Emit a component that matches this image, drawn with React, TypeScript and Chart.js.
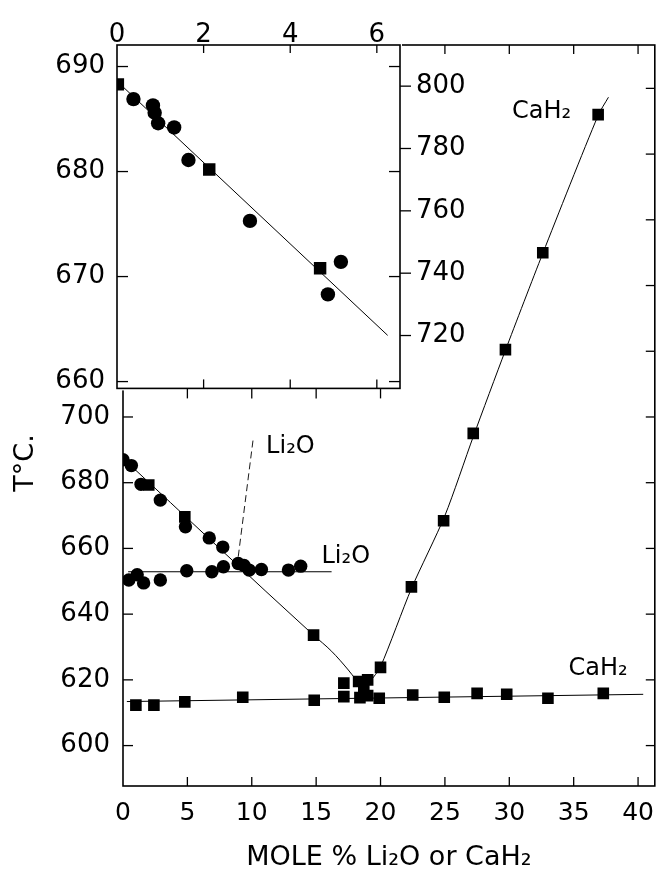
import React, { useEffect, useRef } from 'react';
import { Chart, registerables } from 'chart.js';

Chart.register(...registerables);

// ---------------- main diagram data (mole %, T °C) ----------------
const liqCircleX = [0, 0.65, 1.4, 2.9, 4.85, 6.7, 7.75];
const liqCircleT = [687.0, 685.2, 679.5, 674.7, 666.6, 663.2, 660.4];
const liqSquareX = [2.0, 4.8, 14.8];
const liqSquareT = [679.3, 669.6, 633.6];
const li2oCircleX = [0.45, 1.1, 1.6, 2.9, 4.95, 6.9, 7.8, 8.95, 9.4, 9.8, 10.75, 12.85, 13.8];
const li2oCircleT = [650.4, 652.0, 649.5, 650.4, 653.2, 652.9, 654.4, 655.4, 654.8, 653.4, 653.6, 653.4, 654.6];
const eutSquareX = [1.0, 2.4, 4.8, 9.3, 14.85, 17.15, 17.15, 18.3, 19.0, 18.4, 19.0, 18.7, 19.9, 22.5, 24.95, 27.5, 29.8, 33.0, 37.3];
const eutSquareT = [612.3, 612.3, 613.3, 614.7, 613.8, 614.9, 619.0, 619.5, 620.0, 614.6, 615.2, 617.0, 614.4, 615.4, 614.7, 615.9, 615.6, 614.4, 615.9];
const cah2SquareX = [20.0, 22.4, 24.9, 27.2, 29.7, 32.6, 36.9];
const cah2SquareT = [623.8, 648.3, 668.4, 695.0, 720.5, 750.0, 792.0];

// drawn curves
const liqLineX = [0, 14.8, 16.2, 17.5, 18.1];
const liqLineT = [687.4, 633.6, 628.7, 623.0, 620.0];
const li2oLineX = [0.4, 16.2];
const li2oLineT = [652.9, 652.9];
const li2oDashX = [8.95, 10.1];
const li2oDashT = [657.5, 693.0];
const eutLineX = [0.3, 40.4];
const eutLineT = [613.4, 615.6];
const cah2LineX = [19.2, 20.0, 22.4, 25.0, 27.2, 29.7, 32.6, 36.9, 37.7];
const cah2LineT = [619.5, 624.0, 647.8, 670.0, 694.0, 720.3, 749.8, 791.8, 797.3];

// main axes
const mainXMin = 0;
const mainXMax = 41.3;
const mainTMin = 587.7;
const mainTMax = 813.2;
const mainXTicks = [0, 5, 10, 15, 20, 25, 30, 35, 40];
const mainXMarks = [5, 10, 15, 20, 25, 30, 35, 40];
const mainTTicks = [600, 620, 640, 660, 680, 700];
const mainTUpperTicks = [720, 740, 760, 780, 800];
const mainTAllTicks = [600, 620, 640, 660, 680, 700, 720, 740, 760, 780, 800];
const mainTopMarksUnderInset = [5, 10, 15, 20];

// annotations
const labelText = ['CaH₂', 'Li₂O', 'Li₂O', 'CaH₂'];
const labelX = [32.5, 13.0, 17.3, 36.9];
const labelT = [792.8, 691.0, 657.5, 623.5];
const xTitle = 'MOLE % Li₂O or CaH₂';
const yTitle = 'T°C.';
const yTitleT = 686;

// ---------------- inset data (expanded low-concentration region) ----------------
const insetCircleX = [0.38, 0.83, 0.87, 0.95, 1.32, 1.65, 3.07, 5.17, 4.87];
const insetCircleT = [686.9, 686.3, 685.6, 684.6, 684.2, 681.1, 675.3, 671.4, 668.3];
const insetSquareX = [0.02, 2.13, 4.69];
const insetSquareT = [688.3, 680.2, 670.8];
const insetLineX = [0, 6.25];
const insetLineT = [688.6, 664.4];
const insetXMin = 0;
const insetXMax = 6.535;
const insetTMin = 659.35;
const insetTMax = 692.05;
const insetXTicks = [0, 2, 4, 6];
const insetXMarks = [2, 4, 6];
const insetTTicks = [660, 670, 680, 690];

const FONT = "'DejaVu Sans', 'Liberation Sans', sans-serif";
const INK = '#000';

const pts = (xs: number[], ys: number[]) => xs.map((x, i) => ({ x, y: ys[i] }));

const frameTicks = {
  id: 'frameTicks',
  beforeDraw(chart: any, _a: any, opts: any) {
    if (!opts || !opts.fill) return;
    const { ctx, chartArea: a } = chart;
    ctx.save();
    ctx.fillStyle = opts.fill;
    ctx.fillRect(a.left - 2, a.top - 2, a.right - a.left + 4, a.bottom - a.top + 4);
    ctx.restore();
  },
  afterDraw(chart: any, _a: any, opts: any) {
    const { ctx, chartArea: a } = chart;
    ctx.save();
    ctx.strokeStyle = INK;
    ctx.lineWidth = opts.lineWidth || 1.5;
    ctx.strokeRect(a.left, a.top, a.right - a.left, a.bottom - a.top);
    ctx.lineWidth = opts.tickWidth || 1.3;
    for (const m of opts.marks || []) {
      const s = chart.scales[m.scale];
      for (const v of m.values) {
        const p = s.getPixelForValue(v);
        ctx.beginPath();
        if (m.edge === 'bottom') { ctx.moveTo(p, a.bottom); ctx.lineTo(p, a.bottom - m.len); }
        else if (m.edge === 'top') { ctx.moveTo(p, a.top); ctx.lineTo(p, a.top + m.len); }
        else if (m.edge === 'left') { ctx.moveTo(a.left, p); ctx.lineTo(a.left + m.len, p); }
        else { ctx.moveTo(a.right, p); ctx.lineTo(a.right - m.len, p); }
        ctx.stroke();
      }
    }
    ctx.restore();
  },
};

const textMarks = {
  id: 'textMarks',
  afterDraw(chart: any, _a: any, opts: any) {
    const { ctx } = chart;
    for (const it of opts.items || []) {
      ctx.save();
      ctx.font = it.font;
      ctx.fillStyle = INK;
      ctx.textAlign = 'center';
      ctx.textBaseline = 'middle';
      const x = it.xPixel !== undefined ? it.xPixel : chart.scales.x.getPixelForValue(it.x);
      const y = chart.scales.y.getPixelForValue(it.y);
      ctx.translate(x, y);
      if (it.rotate) ctx.rotate(it.rotate);
      ctx.fillText(it.text, 0, 0);
      ctx.restore();
    }
  },
};

const lineDs = (xs: number[], ys: number[], extra: any = {}) => ({
  data: pts(xs, ys),
  showLine: true,
  pointRadius: 0,
  borderColor: INK,
  borderWidth: 1,
  cubicInterpolationMode: 'monotone',
  clip: 0,
  ...extra,
});

const markDs = (xs: number[], ys: number[], style: string, r: number) => ({
  data: pts(xs, ys),
  showLine: false,
  pointStyle: style,
  pointRadius: r,
  pointHoverRadius: r,
  pointBackgroundColor: INK,
  pointBorderWidth: 0,
  borderColor: INK,
  clip: 0,
});

const noGrid = { display: false, drawTicks: false };

export default function App() {
  const mainRef = useRef<HTMLCanvasElement | null>(null);
  const insetRef = useRef<HTMLCanvasElement | null>(null);

  useEffect(() => {
    const tickFont = (size: number, lineHeight = 1.2) => ({ family: FONT, size, lineHeight });

    const main = new Chart(mainRef.current as HTMLCanvasElement, {
      type: 'scatter',
      data: {
        datasets: [
          lineDs(liqLineX, liqLineT),
          lineDs(li2oLineX, li2oLineT),
          lineDs(li2oDashX, li2oDashT, { borderDash: [7, 4], borderWidth: 0.9 }),
          lineDs(eutLineX, eutLineT),
          lineDs(cah2LineX, cah2LineT, { cubicInterpolationMode: 'default', tension: 0.25 }),
          markDs(liqCircleX, liqCircleT, 'circle', 6.7),
          markDs(li2oCircleX, li2oCircleT, 'circle', 6.7),
          markDs(liqSquareX, liqSquareT, 'rect', 8.2),
          markDs(eutSquareX, eutSquareT, 'rect', 8.2),
          markDs(cah2SquareX, cah2SquareT, 'rect', 8.2),
        ] as any,
      },
      options: {
        responsive: false,
        animation: false,
        devicePixelRatio: 1,
        events: [],
        layout: { padding: { left: 0, top: 45, right: 3, bottom: 0 } },
        plugins: {
          legend: { display: false },
          tooltip: { enabled: false },
          frameTicks: {
            lineWidth: 1.6,
            marks: [
              { scale: 'x', edge: 'bottom', values: mainXMarks, len: 9 },
              { scale: 'x', edge: 'top', values: mainXMarks, len: 9 },
              { scale: 'y', edge: 'left', values: mainTTicks, len: 10 },
              { scale: 'y', edge: 'right', values: mainTAllTicks, len: 9 },
            ],
          },
          textMarks: {
            items: [
              ...labelText.map((t, i) => ({ text: t, x: labelX[i], y: labelT[i], font: `24px ${FONT}` })),
              { text: yTitle, xPixel: 26, y: yTitleT, rotate: -Math.PI / 2, font: `27px ${FONT}` },
            ],
          },
        } as any,
        scales: {
          x: {
            type: 'linear',
            position: 'bottom',
            min: mainXMin,
            max: mainXMax,
            grid: noGrid,
            border: { display: false },
            afterBuildTicks: (s: any) => { s.ticks = mainXTicks.map((v) => ({ value: v })); },
            afterFit: (s: any) => { s.height = 85; s.paddingLeft = 0; s.paddingRight = 0; },
            ticks: { font: tickFont(25), color: INK, padding: 12, maxRotation: 0, autoSkip: false },
            title: {
              display: true,
              text: xTitle,
              color: INK,
              font: { family: FONT, size: 27, lineHeight: 1 },
              padding: { top: 0, bottom: 0 },
            },
          },
          y: {
            type: 'linear',
            position: 'left',
            min: mainTMin,
            max: mainTMax,
            grid: noGrid,
            border: { display: false },
            afterBuildTicks: (s: any) => { s.ticks = mainTTicks.map((v) => ({ value: v })); },
            afterFit: (s: any) => { s.width = 123; },
            ticks: { font: tickFont(26), color: INK, padding: 13, autoSkip: false },
          },
        } as any,
      },
      plugins: [frameTicks, textMarks] as any,
    });

    const INSET = { left: 117, right: 400, top: 45, bottom: 407, w: 480, h: 420 };
    const mainY = main.scales.y;
    const mainX = main.scales.x;
    const y2Max = mainY.getValueForPixel(INSET.top) as number;
    const y2Min = mainY.getValueForPixel(INSET.bottom) as number;
    const xmMin = mainX.getValueForPixel(INSET.left) as number;
    const xmMax = mainX.getValueForPixel(INSET.right) as number;

    const inset = new Chart(insetRef.current as HTMLCanvasElement, {
      type: 'scatter',
      data: {
        datasets: [
          lineDs(insetLineX, insetLineT),
          markDs(insetCircleX, insetCircleT, 'circle', 7.2),
          markDs(insetSquareX, insetSquareT, 'rect', 8.8),
        ] as any,
      },
      options: {
        responsive: false,
        animation: false,
        devicePixelRatio: 1,
        events: [],
        layout: { padding: { left: 0, top: 0, right: 0, bottom: INSET.h - INSET.bottom } },
        plugins: {
          legend: { display: false },
          tooltip: { enabled: false },
          frameTicks: {
            fill: '#ffffff',
            lineWidth: 1.6,
            marks: [
              { scale: 'x', edge: 'top', values: insetXMarks, len: 8 },
              { scale: 'x', edge: 'bottom', values: insetXMarks, len: 9 },
              { scale: 'y', edge: 'left', values: insetTTicks, len: 11 },
              { scale: 'y', edge: 'right', values: insetTTicks, len: 11 },
              { scale: 'y2', edge: 'right', values: mainTUpperTicks, len: -11 },
              { scale: 'xm', edge: 'bottom', values: mainTopMarksUnderInset, len: -10 },
            ],
          },
        } as any,
        scales: {
          x: {
            type: 'linear',
            position: 'top',
            min: insetXMin,
            max: insetXMax,
            grid: noGrid,
            border: { display: false },
            afterBuildTicks: (s: any) => { s.ticks = insetXTicks.map((v) => ({ value: v })); },
            afterFit: (s: any) => { s.height = INSET.top; s.paddingLeft = 0; s.paddingRight = 0; },
            ticks: { font: tickFont(26, 0.75), color: INK, padding: 0, maxRotation: 0, autoSkip: false },
          },
          y: {
            type: 'linear',
            position: 'left',
            min: insetTMin,
            max: insetTMax,
            grid: noGrid,
            border: { display: false },
            afterBuildTicks: (s: any) => { s.ticks = insetTTicks.map((v) => ({ value: v })); },
            afterFit: (s: any) => { s.width = INSET.left; },
            ticks: { font: tickFont(26), color: INK, padding: 12, autoSkip: false },
          },
          y2: {
            type: 'linear',
            position: 'right',
            min: y2Min,
            max: y2Max,
            grid: noGrid,
            border: { display: false },
            afterBuildTicks: (s: any) => { s.ticks = mainTUpperTicks.map((v) => ({ value: v })); },
            afterFit: (s: any) => { s.width = INSET.w - INSET.right; },
            ticks: { font: tickFont(26), color: INK, padding: 16, autoSkip: false },
          },
          xm: {
            type: 'linear',
            display: false,
            position: 'bottom',
            min: xmMin,
            max: xmMax,
          },
        } as any,
      },
      plugins: [frameTicks] as any,
    });

    return () => {
      inset.destroy();
      main.destroy();
    };
  }, []);

  return (
    <div style={{ position: 'fixed', left: 0, top: 0, width: 663, height: 871, background: '#fff', overflow: 'hidden' }}>
      <canvas ref={mainRef} width={663} height={871} style={{ position: 'absolute', left: 0, top: 0, width: 663, height: 871 }} />
      <canvas ref={insetRef} width={480} height={420} style={{ position: 'absolute', left: 0, top: 0, width: 480, height: 420, zIndex: 1 }} />
    </div>
  );
}
